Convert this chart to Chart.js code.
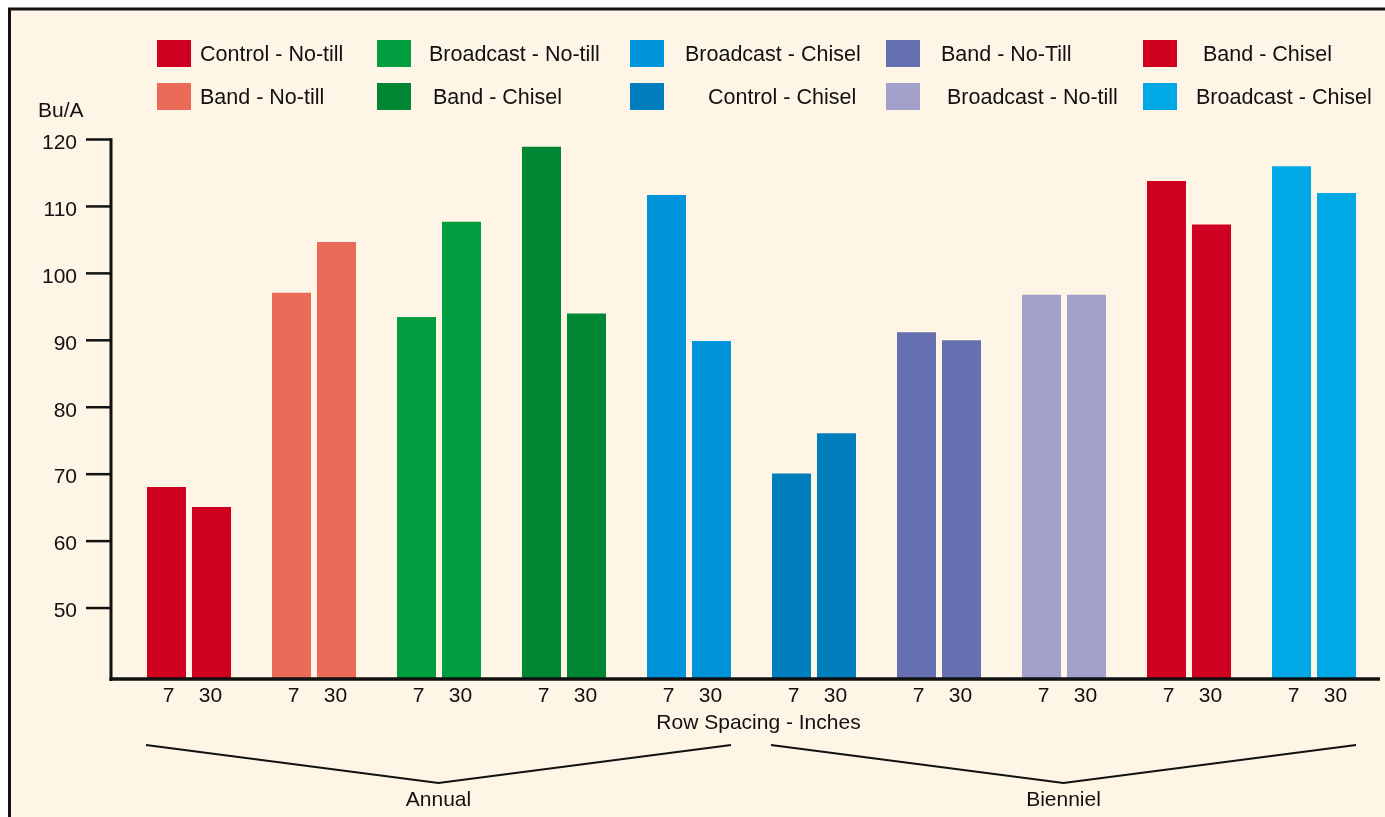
<!DOCTYPE html>
<html><head><meta charset="utf-8">
<script src="https://cdn.jsdelivr.net/npm/chart.js@4.4.1/dist/chart.umd.min.js"></script>
<style>html,body{margin:0;padding:0;background:#fff;overflow:hidden}
#wrap{position:relative;width:1385px;height:817px}</style>
</head><body><div id="wrap"><canvas id="c"></canvas></div>
<script>
// ---- data ----
const groups = ['Control - No-till','Band - No-till','Broadcast - No-till','Band - Chisel','Broadcast - Chisel',
                'Control - Chisel','Band - No-Till','Broadcast - No-till','Band - Chisel','Broadcast - Chisel'];
const rowSpacing = ['7','30'];
const yield7  = [68.1, 97.1, 93.5, 118.9, 111.7, 70.1, 91.2, 96.8, 113.8, 116.0];
const yield30 = [65.1, 104.7, 107.7, 94.0, 89.9, 76.1, 90.0, 96.8, 107.3, 112.0];
const groupColors = ['#D00021','#EB6A58','#009E3E','#008733','#0095DA',
                     '#007FBC','#6670B0','#A3A0CB','#D00021','#00A8E6'];
const periods = ['Annual','Bienniel'];
const periodSpans = [[0,4],[5,9]];
const yTicks = [50,60,70,80,90,100,110,120];
const yUnit = 'Bu/A';
const xTitle = 'Row Spacing - Inches';

// ---- style ----
const FONT = '"Liberation Sans", Arial, Helvetica, sans-serif';
const INK = '#111';
const CREAM = '#FEF5E6';

const framePlugin = {
  id:'frame',
  beforeDraw(chart){
    const ctx = chart.ctx; ctx.save();
    ctx.fillStyle = '#fff'; ctx.fillRect(0,0,chart.width,chart.height);
    ctx.fillStyle = CREAM; ctx.fillRect(9,8,chart.width,chart.height);
    ctx.strokeStyle = INK; ctx.lineWidth = 3;
    ctx.beginPath(); ctx.moveTo(9.5, chart.height+5); ctx.lineTo(9.5, 9); ctx.lineTo(chart.width+5, 9); ctx.stroke();
    ctx.restore();
  }
};

// legend layout: column box x, row box y, text offset per item
const legCols = [157,377,630,886,1143];
const legRows = [40,83];
const legTextOff = [43,43,52,56,55,78,55,61,60,53];
const legendPlugin = {
  id:'gridLegend',
  afterDraw(chart){
    const ctx = chart.ctx; ctx.save();
    ctx.font = '21.5px ' + FONT; ctx.textBaseline = 'alphabetic'; ctx.textAlign = 'left';
    groups.forEach((g,i)=>{
      const col = Math.floor(i/2), row = i%2;
      const bx = legCols[col], by = legRows[row];
      ctx.fillStyle = groupColors[i]; ctx.fillRect(bx, by, 34, 27);
      ctx.fillStyle = INK; ctx.fillText(g, bx + legTextOff[i], by + 20.5);
    });
    ctx.restore();
  }
};

const axesPlugin = {
  id:'axesDecor',
  afterDatasetsDraw(chart){
    const ctx = chart.ctx, ca = chart.chartArea, ys = chart.scales.y;
    ctx.save();
    ctx.strokeStyle = INK;
    const ax = ca.left - 15.5;
    // ticks
    ctx.lineWidth = 2.5;
    yTicks.forEach(v=>{ const y = ys.getPixelForValue(v); ctx.beginPath(); ctx.moveTo(ax-25, y); ctx.lineTo(ax, y); ctx.stroke(); });
    // y axis line
    ctx.lineWidth = 3;
    ctx.beginPath(); ctx.moveTo(ax, ys.getPixelForValue(120)-1.2); ctx.lineTo(ax, ca.bottom+2); ctx.stroke();
    // x axis line
    ctx.lineWidth = 3.5;
    ctx.beginPath(); ctx.moveTo(ax-1.5, ca.bottom); ctx.lineTo(ca.right+3.5, ca.bottom); ctx.stroke();
    // unit label
    ctx.fillStyle = INK; ctx.font = '21px ' + FONT; ctx.textAlign='left'; ctx.textBaseline='alphabetic';
    ctx.fillText(yUnit, 38, 117);
    // row-spacing labels under bars
    ctx.textAlign='center'; ctx.textBaseline='middle';
    rowSpacing.forEach((lab,di)=>{
      chart.getDatasetMeta(di).data.forEach(bar=>{
        ctx.fillText(lab, bar.x + (di===0?2:-1), ca.bottom + 17);
      });
    });
    ctx.fillText(xTitle, 758.5, ca.bottom + 44);
    // period brackets
    const m0 = chart.getDatasetMeta(0).data, m1 = chart.getDatasetMeta(1).data;
    ctx.lineWidth = 2;
    periodSpans.forEach((sp,pi)=>{
      const l = m0[sp[0]].x - m0[sp[0]].width/2 - 1;
      const r = m1[sp[1]].x + m1[sp[1]].width/2;
      const mid = (l+r)/2;
      ctx.beginPath(); ctx.moveTo(l, ca.bottom+66); ctx.lineTo(mid, ca.bottom+104); ctx.lineTo(r, ca.bottom+66); ctx.stroke();
      ctx.fillText(periods[pi], mid, ca.bottom+121);
    });
    ctx.restore();
  }
};

new Chart(document.getElementById('c'), {
  type:'bar',
  data:{
    labels: groups,
    datasets:[
      {label: rowSpacing[0], data: yield7, backgroundColor: groupColors, categoryPercentage:0.72, barPercentage:0.8667, borderWidth:0},
      {label: rowSpacing[1], data: yield30, backgroundColor: groupColors, categoryPercentage:0.72, barPercentage:0.8667, borderWidth:0}
    ]
  },
  options:{
    responsive:true, maintainAspectRatio:false, animation:false, devicePixelRatio:1,
    layout:{padding:{top:139.5, bottom:138, left:0, right:8.5}},
    plugins:{legend:{display:false}, tooltip:{enabled:false}},
    scales:{
      x:{display:false, offset:true},
      y:{
        min:39.4, max:120,
        afterBuildTicks(s){ s.ticks = yTicks.map(v=>({value:v})); },
        afterFit(s){ s.width = 126.5; },
        grid:{display:false, drawTicks:false},
        border:{display:false},
        ticks:{color:INK, font:{family:FONT, size:21}, padding:49.5, labelOffset:3.5}
      }
    }
  },
  plugins:[framePlugin, legendPlugin, axesPlugin]
});
</script>
</body></html>
